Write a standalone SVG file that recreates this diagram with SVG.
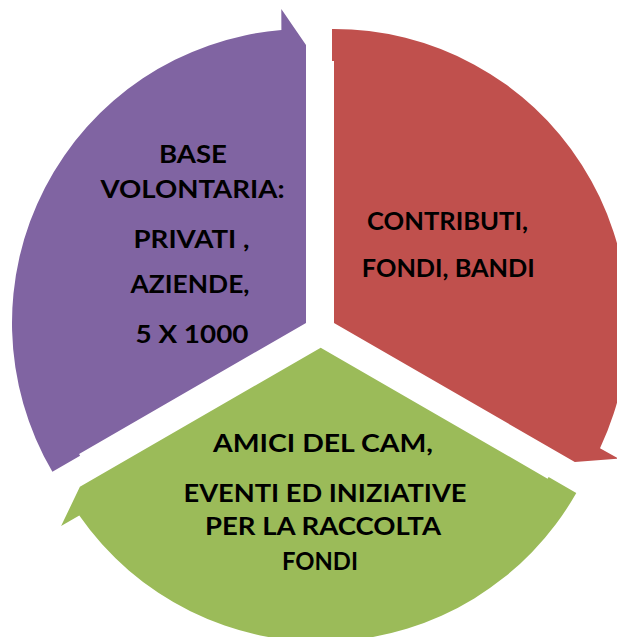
<svg xmlns="http://www.w3.org/2000/svg" width="617" height="637" viewBox="0 0 617 637">
<style>
  .seg-purple { fill: #8064A2; }
  .seg-red { fill: #C0504D; }
  .seg-green { fill: #9BBB59; }
  .lbl { font-family: "Lato", "Liberation Sans", sans-serif; font-weight: 700; font-size: 25px; fill: #000; text-anchor: middle; }
</style>
<rect width="617" height="637" fill="#ffffff"/>
<g id="connectors"></g>
<g id="node-base-volontaria">
  <path class="seg-purple" d="M306,323 L79.1,454 L80.1,455.7 L52.4,471.7 A294,294 0 0 1 281.4,30 L281.3,9 L306,45 Z"/>
  <text class="lbl" x="193" y="163" textLength="68" lengthAdjust="spacingAndGlyphs">BASE</text>
  <text class="lbl" x="192.5" y="198" textLength="184" lengthAdjust="spacingAndGlyphs">VOLONTARIA:</text>
  <text class="lbl" x="191.5" y="248" textLength="116" lengthAdjust="spacingAndGlyphs">PRIVATI ,</text>
  <text class="lbl" x="190" y="293" textLength="119" lengthAdjust="spacingAndGlyphs">AZIENDE,</text>
  <text class="lbl" x="192" y="343" textLength="113" lengthAdjust="spacingAndGlyphs">5 X 1000</text>
</g>
<g id="node-contributi">
  <path class="seg-red" d="M334,323 L334,61 L332,61 L332,29 A294,294 0 0 1 600,448.2 L618.3,458.6 L574.8,462 Z"/>
  <text class="lbl" x="447.5" y="230" textLength="161" lengthAdjust="spacingAndGlyphs">CONTRIBUTI,</text>
  <text class="lbl" x="448.3" y="277" textLength="173" lengthAdjust="spacingAndGlyphs">FONDI, BANDI</text>
</g>
<g id="node-amici">
  <path class="seg-green" d="M320.7,347.7 L547.6,478.7 L548.6,477 L576.3,493 A294,294 0 0 1 79.3,515.5 L61.1,526.1 L79.9,486.7 Z"/>
  <text class="lbl" x="323" y="452" textLength="220" lengthAdjust="spacingAndGlyphs">AMICI DEL CAM,</text>
  <text class="lbl" x="325" y="502" textLength="283" lengthAdjust="spacingAndGlyphs">EVENTI ED INIZIATIVE</text>
  <text class="lbl" x="323" y="535" textLength="236" lengthAdjust="spacingAndGlyphs">PER LA RACCOLTA</text>
  <text class="lbl" x="320" y="570" textLength="76" lengthAdjust="spacingAndGlyphs">FONDI</text>
</g>
</svg>
